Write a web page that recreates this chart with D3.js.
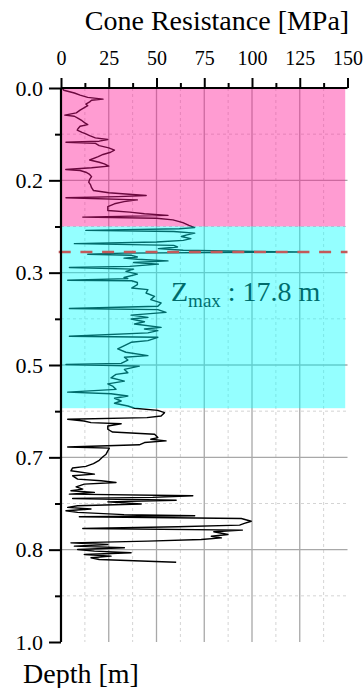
<!DOCTYPE html>
<html>
<head>
<meta charset="utf-8">
<script src="https://cdn.jsdelivr.net/npm/d3@7"></script>
<style>
  body { margin: 0; background: #fff; }
  svg { display: block; }
  text { font-family: "Liberation Serif", "Times New Roman", serif; fill: #000; }
</style>
</head>
<body>
<svg id="chart" width="364" height="688"></svg>
<script>
// Normalised depth of each CPT reading
const depth = [
  0.000, 0.004, 0.009, 0.013, 0.017, 0.020, 0.022, 0.025, 0.029, 0.032,
  0.036, 0.040, 0.045, 0.049, 0.051, 0.055, 0.059, 0.063, 0.066, 0.069,
  0.073, 0.076, 0.080, 0.083, 0.086, 0.090, 0.093, 0.096, 0.098, 0.100,
  0.104, 0.108, 0.112, 0.116, 0.120, 0.124, 0.130, 0.134, 0.137, 0.141,
  0.144, 0.147, 0.149, 0.152, 0.156, 0.160, 0.165, 0.170, 0.175, 0.180,
  0.185, 0.189, 0.194, 0.196, 0.198, 0.202, 0.205, 0.209, 0.214, 0.221,
  0.224, 0.227, 0.230, 0.233, 0.235, 0.238, 0.243, 0.248, 0.252, 0.254,
  0.257, 0.259, 0.262, 0.265, 0.268, 0.272, 0.275, 0.278, 0.281, 0.284,
  0.287, 0.290, 0.293, 0.296, 0.298, 0.300, 0.302, 0.305, 0.307, 0.309,
  0.312, 0.315, 0.318, 0.322, 0.324, 0.327, 0.331, 0.336, 0.342, 0.344,
  0.347, 0.348, 0.351, 0.355, 0.361, 0.364, 0.370, 0.376, 0.382, 0.388,
  0.394, 0.398, 0.400, 0.405, 0.410, 0.414, 0.417, 0.422, 0.426, 0.432,
  0.435, 0.438, 0.442, 0.448, 0.450, 0.456, 0.459, 0.465, 0.471, 0.477,
  0.483, 0.486, 0.491, 0.497, 0.499, 0.502, 0.508, 0.514, 0.517, 0.523,
  0.529, 0.534, 0.538, 0.544, 0.549, 0.552, 0.556, 0.560, 0.565, 0.569,
  0.574, 0.578, 0.582, 0.586, 0.592, 0.595, 0.598, 0.601, 0.604, 0.606,
  0.610, 0.616, 0.621, 0.625, 0.631, 0.634, 0.637, 0.640, 0.644, 0.648,
  0.650, 0.655, 0.661, 0.666, 0.672, 0.678, 0.683, 0.686, 0.691, 0.697,
  0.700, 0.706, 0.709, 0.712, 0.715, 0.720, 0.724, 0.727, 0.730, 0.733,
  0.736, 0.739, 0.741, 0.744, 0.747, 0.751, 0.754, 0.757, 0.760, 0.763,
  0.766, 0.770, 0.772, 0.774, 0.777, 0.782, 0.786, 0.789, 0.792, 0.795,
  0.798, 0.801, 0.806, 0.809, 0.812, 0.815, 0.818, 0.821, 0.824, 0.827,
  0.830, 0.833, 0.836, 0.839, 0.842, 0.845, 0.848, 0.851, 0.856
];

// Cone resistance qc [MPa] at each depth
const qc = [
  0.5, 1.5, 7, 10, 14, 22, 16, 15, 13, 14,
  12, 10, 8, 2, 7, 9, 11, 12.5, 14, 10,
  9, 8.5, 11, 13, 15, 18, 24.5, 20, 2.6, 18,
  20, 25, 28, 26, 22, 19.5, 15, 20, 22.7, 25,
  16, 2.5, 10, 13, 15, 16, 15, 14.5, 15.5, 16,
  17, 25, 44.6, 30, 2.6, 40, 33, 28, 24.5, 24.5,
  36, 43.7, 56, 11.4, 50, 58.6, 63.8, 67, 70, 62,
  13, 59, 70, 66, 63, 68, 64, 50, 7, 59,
  61, 51, 64, 124.5, 33, 14, 37, 40, 33, 40,
  56, 38, 51, 36, 4.4, 38, 34, 40, 33, 35,
  3.5, 37, 40, 40, 37, 45.5, 44.5, 49, 47, 52.4,
  50.7, 4.4, 50.7, 55, 36.7, 45.5, 36.7, 43.7, 38.5, 52.4,
  43.7, 50.7, 45.5, 4.4, 50.7, 45.5, 36.7, 33.2, 29.7, 34,
  45.5, 33.2, 35, 31.5, 2.6, 41, 33.2, 35, 28.8, 26.2,
  33.2, 24.5, 27, 28.8, 3.5, 26.2, 35, 28, 31.5, 28,
  35, 38.5, 50.7, 54.2, 52.4, 45, 3.5, 12, 15.7, 31.5,
  24.5, 24.5, 27, 49, 50.7, 47, 55, 43.7, 41, 3.5,
  25.3, 24.5, 23.6, 21.8, 20, 17, 13, 6, 5.2, 17.5,
  6.1, 8.7, 21, 28.8, 12.2, 7.9, 11.4, 5.2, 17.5, 4.4,
  69, 48, 6.1, 60.3, 24.5, 42, 8.7, 3.5, 15.7, 2.6,
  8.7, 33, 70, 9.6, 94.4, 99.6, 96, 93.5, 61, 11.4,
  95, 80, 87.4, 78.7, 84, 73.4, 45.5, 5.2, 24.5, 7,
  33.2, 8.7, 17.5, 36.7, 12.2, 26.2, 15.7, 20, 60.3
];

// Axis ticks
const xMajorTicks = [0, 25, 50, 75, 100, 125, 150];
const xMinorTicks = [12.5, 37.5, 62.5, 87.5, 112.5, 137.5];
const yMajorTicks = [0, 1 / 6, 2 / 6, 3 / 6, 4 / 6, 5 / 6, 1];
const yMinorTicks = [1 / 12, 3 / 12, 5 / 12, 7 / 12, 9 / 12, 11 / 12];

// Shaded depth zones: [top, bottom]
const zoneTops = [0, 0.25];
const zoneBottoms = [0.25, 0.578];
const zoneColors = ["#ff1493", "#00ffff"];

// Depth of maximum resistance
const zMaxDepth = 0.296;
const zMaxText = "17.8 m";

const svg = d3.select("#chart");
const x = d3.scaleLinear().domain([0, 150]).range([61, 347.5]);
const y = d3.scaleLinear().domain([0, 1]).range([88, 642]);

// Grid
const grid = svg.append("g");
grid.selectAll("line.vmin").data(xMinorTicks).join("line")
  .attr("x1", d => x(d)).attr("x2", d => x(d))
  .attr("y1", y(0)).attr("y2", y(1))
  .attr("stroke", "#d4d4d4").attr("stroke-width", 1).attr("stroke-dasharray", "3,3");
grid.selectAll("line.hmin").data(yMinorTicks).join("line")
  .attr("x1", x(0)).attr("x2", x(150))
  .attr("y1", d => y(d)).attr("y2", d => y(d))
  .attr("stroke", "#d4d4d4").attr("stroke-width", 1).attr("stroke-dasharray", "3,3");
grid.selectAll("line.vmaj").data(xMajorTicks.slice(1, -1)).join("line")
  .attr("x1", d => x(d)).attr("x2", d => x(d))
  .attr("y1", y(0)).attr("y2", y(1))
  .attr("stroke", "#a8a8a8").attr("stroke-width", 1.3);
grid.selectAll("line.hmaj").data(yMajorTicks.slice(1, -1)).join("line")
  .attr("x1", x(0)).attr("x2", x(150))
  .attr("y1", d => y(d)).attr("y2", d => y(d))
  .attr("stroke", "#a8a8a8").attr("stroke-width", 1.3);

// qc profile
const profile = d3.line().x(d => x(d[1])).y(d => y(d[0]));
svg.append("path")
  .datum(depth.map((d, i) => [d, qc[i]]))
  .attr("d", profile)
  .attr("fill", "none").attr("stroke", "#000")
  .attr("stroke-width", 1.4).attr("stroke-linejoin", "round");

const zt = svg.append("text").attr("x", 171).attr("y", 301).attr("font-size", 28);
zt.append("tspan").text("Z");
zt.append("tspan").attr("font-size", 19).attr("dy", 6).text("max");
zt.append("tspan").attr("dy", -6).text(" : " + zMaxText);

// Translucent zones on top of grid and profile
svg.append("g").selectAll("rect").data(zoneTops).join("rect")
  .attr("x", x(0)).attr("width", x(148.8) - x(0))
  .attr("y", d => y(d))
  .attr("height", (d, i) => y(zoneBottoms[i]) - y(d))
  .attr("fill", (d, i) => zoneColors[i])
  .attr("fill-opacity", 0.42);

// Depth of maximum resistance
svg.append("line")
  .attr("x1", x(-1.2)).attr("x2", x(150))
  .attr("y1", y(zMaxDepth)).attr("y2", y(zMaxDepth))
  .attr("stroke", "#c25a5a").attr("stroke-width", 2.6)
  .attr("stroke-dasharray", "12,9.7");

// Axes
const topMinor = svg.append("g").attr("transform", `translate(0,${y(0)})`)
  .call(d3.axisTop(x).tickValues(xMinorTicks).tickSize(5).tickFormat(""));
const topAxis = svg.append("g").attr("transform", `translate(0,${y(0)})`)
  .call(d3.axisTop(x).tickValues(xMajorTicks).tickSize(10).tickPadding(13).tickFormat(d3.format("d")));
const leftMinor = svg.append("g").attr("transform", `translate(${x(0)},0)`)
  .call(d3.axisLeft(y).tickValues(yMinorTicks).tickSize(6).tickFormat(""));
const leftAxis = svg.append("g").attr("transform", `translate(${x(0)},0)`)
  .call(d3.axisLeft(y).tickValues(yMajorTicks).tickSize(12).tickPadding(6).tickFormat(d3.format(".1f")));

[topMinor, topAxis, leftMinor, leftAxis].forEach(g => {
  g.select(".domain").attr("stroke", "#000").attr("stroke-width", 2.2);
  g.selectAll(".tick line").attr("stroke", "#000").attr("stroke-width", 2);
});
topMinor.select(".domain").remove();
leftMinor.select(".domain").remove();
topAxis.select(".domain").attr("d", `M${x(0)},0H${x(150)}`);
leftAxis.select(".domain").attr("d", `M0,${y(0)}V${y(1)}`);
topAxis.selectAll(".tick text").attr("font-size", 20).attr("font-family", "Liberation Serif").attr("fill", "#000");
leftAxis.selectAll(".tick text").attr("font-size", 22).attr("font-family", "Liberation Serif").attr("fill", "#000");

// Titles
svg.append("text").attr("x", 217).attr("y", 30).attr("text-anchor", "middle")
  .attr("font-size", 28).text("Cone Resistance [MPa]");
svg.append("text").attr("x", 23).attr("y", 683)
  .attr("font-size", 28).text("Depth [m]");
</script>
</body>
</html>
